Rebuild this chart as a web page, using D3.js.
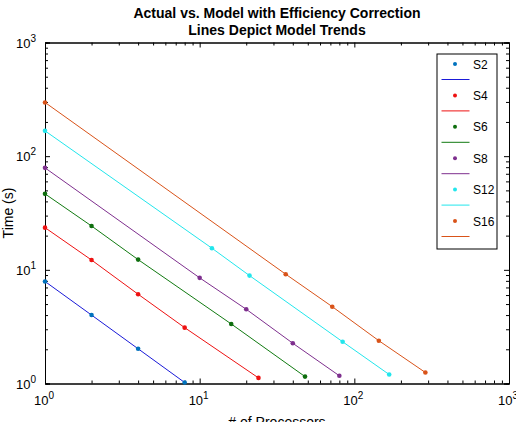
<!DOCTYPE html>
<html>
<head>
<meta charset="utf-8">
<script src="https://cdn.jsdelivr.net/npm/d3@7"></script>
<style>
  body { margin: 0; background: #fff; }
  svg { display: block; font-family: "Liberation Sans", Arial, sans-serif; }
</style>
</head>
<body>
<svg id="chart" width="516" height="422"></svg>
<script>
// series
const seriesNames = ['S2', 'S4', 'S6', 'S8', 'S12', 'S16']
const procS2 = [1, 2, 4, 8]
const timeS2 = [7.9, 4.0, 2.02, 1.02]
const procS4 = [1, 2, 4, 8, 24]
const timeS4 = [23.5, 12.2, 6.1, 3.1, 1.12]
const procS6 = [1, 2, 4, 16, 48]
const timeS6 = [46.6, 24.3, 12.3, 3.34, 1.15]
const procS8 = [1, 10, 20, 40, 80]
const timeS8 = [78.9, 8.5, 4.5, 2.26, 1.17]
const procS12 = [1, 12, 21, 84, 168]
const timeS12 = [167, 15.5, 8.9, 2.33, 1.2]
const procS16 = [1, 36, 72, 144, 288]
const timeS16 = [297, 9.15, 4.74, 2.38, 1.25]

const lineColors = ['#1a1ad8', '#ee1111', '#117a11', '#7e2f8e', '#22e6ec', '#d95319']
const markColors = ['#0072bd', '#ee1111', '#0e6e0e', '#7e2f8e', '#22e6ec', '#d95319']

const majorTicks = [1, 10, 100, 1000]
const exps = ['0', '1', '2', '3']

const series = [
  [procS2, timeS2], [procS4, timeS4], [procS6, timeS6],
  [procS8, timeS8], [procS12, timeS12], [procS16, timeS16]
].map(([p, t], i) => ({
  name: seriesNames[i],
  points: p.map((v, j) => ({ p: v, t: t[j] })),
  line: lineColors[i],
  mark: markColors[i]
}))

const svg = d3.select('#chart')
const mLeft = 45, mRight = 509, mTop = 42.5, mBottom = 383.5

const x = d3.scaleLog().domain([1, 1000]).range([mLeft, mRight])
const y = d3.scaleLog().domain([1, 1000]).range([mBottom, mTop])

const minorX = x.ticks().filter(d => !majorTicks.includes(d))
const minorY = y.ticks().filter(d => !majorTicks.includes(d))

// axes with inward ticks on all four sides
function drawAxis(axisFn, scale, minor, transform) {
  const g = svg.append('g').attr('transform', transform)
  g.call(axisFn(scale).tickValues(minor).tickSize(-3).tickFormat(''))
  const g2 = svg.append('g').attr('transform', transform)
  g2.call(axisFn(scale).tickValues(majorTicks).tickSize(-5).tickFormat(''))
  ;[g, g2].forEach(s => {
    s.selectAll('path.domain').attr('stroke', '#000').attr('stroke-width', 1)
    s.selectAll('line').attr('stroke', '#000').attr('stroke-width', 1)
  })
}
drawAxis(d3.axisBottom, x, minorX, `translate(0,${mBottom})`)
drawAxis(d3.axisTop, x, minorX, `translate(0,${mTop})`)
drawAxis(d3.axisLeft, y, minorY, `translate(${mLeft},0)`)
drawAxis(d3.axisRight, y, minorY, `translate(${mRight},0)`)

// tick labels with superscripts
const xl = svg.append('g').selectAll('text').data(majorTicks).join('text')
  .attr('x', d => x(d) - 1)
  .attr('y', 405)
  .attr('text-anchor', 'middle')
  .style('font-size', '13px')
xl.append('tspan').text('10')
xl.append('tspan').attr('dy', -6).style('font-size', '10px').text((d, i) => exps[i])

const yl = svg.append('g').selectAll('text').data(majorTicks).join('text')
  .attr('x', mLeft - 9)
  .attr('y', d => y(d) + 5)
  .attr('text-anchor', 'end')
  .style('font-size', '13px')
yl.append('tspan').text('10')
yl.append('tspan').attr('dy', -6).style('font-size', '10px').text((d, i) => exps[i])

// model lines and measured points
const line = d3.line().x(d => x(d.p)).y(d => y(d.t))
const plot = svg.append('g')
series.forEach(s => {
  plot.append('path')
    .datum(s.points)
    .attr('fill', 'none')
    .attr('stroke', s.line)
    .attr('stroke-width', 1)
    .attr('d', line)
  plot.append('g').selectAll('circle').data(s.points).join('circle')
    .attr('cx', d => x(d.p))
    .attr('cy', d => y(d.t))
    .attr('r', 2.3)
    .attr('fill', s.mark)
})

// titles
svg.append('text').attr('x', (mLeft + mRight) / 2).attr('y', 17.5)
  .attr('text-anchor', 'middle').style('font-size', '14px').style('font-weight', 'bold')
  .text('Actual vs. Model with Efficiency Correction')
svg.append('text').attr('x', (mLeft + mRight) / 2).attr('y', 35)
  .attr('text-anchor', 'middle').style('font-size', '14px').style('font-weight', 'bold')
  .text('Lines Depict Model Trends')

svg.append('text')
  .attr('transform', `translate(13,${(mTop + mBottom) / 2}) rotate(-90)`)
  .attr('text-anchor', 'middle').style('font-size', '14px')
  .text('Time (s)')
svg.append('text').attr('x', (mLeft + mRight) / 2).attr('y', 427)
  .attr('text-anchor', 'middle').style('font-size', '14px')
  .text('# of Processors')

// legend
const lg = svg.append('g')
lg.append('rect').attr('x', 437).attr('y', 54).attr('width', 60).attr('height', 195)
  .attr('fill', '#fff').attr('stroke', '#000').attr('stroke-width', 1)
series.forEach((s, i) => {
  const yy = 64 + i * 31.4
  lg.append('circle').attr('cx', 455).attr('cy', yy).attr('r', 2).attr('fill', s.mark)
  lg.append('text').attr('x', 473).attr('y', yy + 4.5).style('font-size', '12px').text(s.name)
  lg.append('line').attr('x1', 441.5).attr('x2', 469.5).attr('y1', yy + 15.5).attr('y2', yy + 15.5)
    .attr('stroke', s.line).attr('stroke-width', 1)
})
</script>
</body>
</html>
